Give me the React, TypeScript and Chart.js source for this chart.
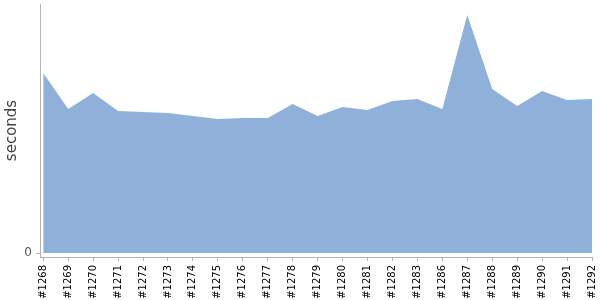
import React, { useEffect, useRef } from "react";
import { Chart, registerables } from "chart.js";

Chart.register(...registerables);

const builds = [
  "#1268", "#1269", "#1270", "#1271", "#1272", "#1273", "#1274", "#1275",
  "#1276", "#1277", "#1278", "#1279", "#1280", "#1281", "#1282", "#1283",
  "#1286", "#1287", "#1288", "#1289", "#1290", "#1291", "#1292",
];

const durations = [
  180, 144, 160, 142, 141, 140, 137, 134,
  135, 135, 149, 137, 146, 143, 152, 154,
  144, 238, 164, 147, 162, 153, 154,
];

const yTicks = [0];

export default function App() {
  const canvasRef = useRef<HTMLCanvasElement | null>(null);

  useEffect(() => {
    if (!canvasRef.current) return;
    const axisColor = "#b4b4b4";
    const chart = new Chart(canvasRef.current, {
      type: "line",
      data: {
        datasets: [
          {
            data: durations.map((v, i) => ({ x: i, y: v })),
            fill: "origin",
            backgroundColor: "#8fb1d9",
            borderWidth: 0,
            borderColor: "#8fb1d9",
            pointRadius: 0,
            tension: 0,
          },
        ],
      },
      options: {
        animation: false,
        responsive: false,
        maintainAspectRatio: false,
        layout: { padding: { top: 4, right: 8, left: 0, bottom: 0 } },
        plugins: { legend: { display: false }, tooltip: { enabled: false } },
        scales: {
          x: {
            type: "linear",
            min: -0.13,
            max: builds.length - 1,
            afterBuildTicks: (scale: any) => {
              scale.ticks = builds.map((_, i) => ({ value: i }));
            },
            afterFit: (scale: any) => {
              scale.height = 43;
              scale.paddingLeft = 0;
              scale.paddingRight = 0;
            },
            grid: {
              display: true,
              drawOnChartArea: false,
              drawTicks: true,
              tickLength: 4,
              color: axisColor,
            },
            border: { display: true, color: axisColor },
            ticks: {
              autoSkip: false,
              minRotation: 90,
              maxRotation: 90,
              padding: 4,
              color: "#000",
              font: { family: "DejaVu Sans", size: 10 },
              callback: (v: any) => builds[Math.round(Number(v))] ?? "",
            },
          },
          y: {
            min: -4,
            max: 249,
            afterBuildTicks: (scale: any) => {
              scale.ticks = yTicks.map((v) => ({ value: v }));
            },
            afterFit: (scale: any) => {
              scale.width = 40;
              scale.paddingTop = 0;
              scale.paddingBottom = 0;
            },
            grid: {
              display: true,
              drawOnChartArea: false,
              drawTicks: true,
              tickLength: 4,
              color: axisColor,
            },
            border: { display: true, color: axisColor },
            ticks: {
              padding: 4,
              color: "#555",
              font: { family: "DejaVu Sans", size: 12 },
            },
            title: {
              display: true,
              text: "seconds",
              color: "#444",
              padding: { top: 3, bottom: 0 },
              font: { family: "DejaVu Sans", size: 15 },
            },
          },
        },
      },
    });
    return () => chart.destroy();
  }, []);

  return (
    <div style={{ position: "fixed", left: 0, top: 0, width: 600, height: 300, background: "#fff" }}>
      <canvas ref={canvasRef} width={600} height={300} style={{ width: 600, height: 300 }} />
    </div>
  );
}
